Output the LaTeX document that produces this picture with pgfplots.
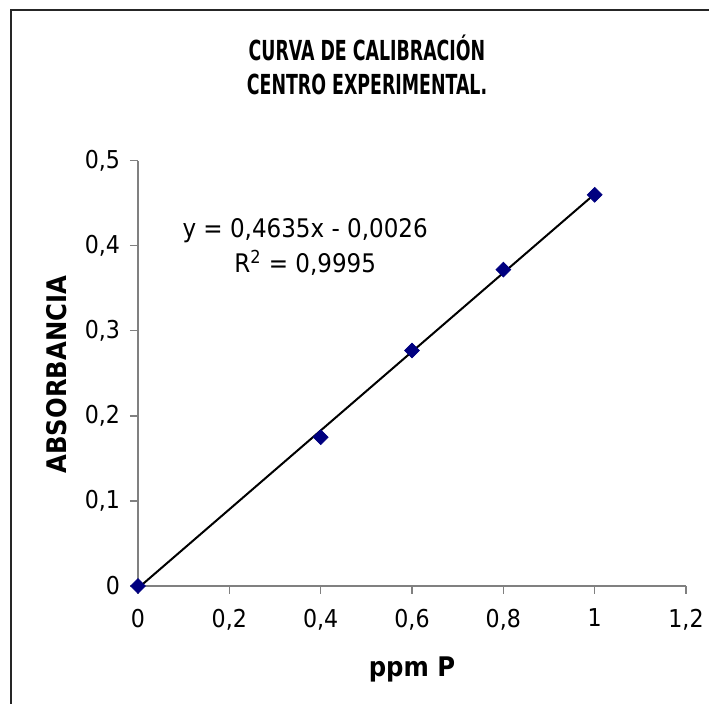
\documentclass[border=0pt]{standalone}
\usepackage{fontspec}
\setmainfont{DejaVu Sans Condensed}
\newfontfamily\titlefont[FakeStretch=0.7]{DejaVu Sans Condensed}
\usepackage{pgfplots}
\pgfplotsset{compat=1.18}
\definecolor{navy}{HTML}{000080}
\begin{document}
\begin{tikzpicture}[x=1pt,y=1pt]
\path[use as bounding box] (0,0) rectangle (354.5,352);
\draw[line width=0.9pt, black!85] (5.5,-20) |- (380,347);
\node[align=center, font=\titlefont\bfseries\fontsize{13.8}{17}\selectfont] at (183.5,319.5) {CURVA DE CALIBRACIÓN\\CENTRO EXPERIMENTAL.};
\begin{axis}[
  at={(69pt,59pt)}, anchor=south west,
  width=274pt, height=212.6pt, scale only axis,
  xmin=0, xmax=1.2, ymin=0, ymax=0.5,
  axis lines=left,
  axis line style={-, gray, line width=0.6pt},
  tick style={gray, line width=0.6pt},
  tick align=outside, major tick length=4pt,
  xtick={0,0.2,0.4,0.6,0.8,1,1.2},
  xticklabels={0,{0,2},{0,4},{0,6},{0,8},1,{1,2}},
  ytick={0,0.1,0.2,0.3,0.4,0.5},
  yticklabels={0,{0,1},{0,2},{0,3},{0,4},{0,5}},
  ticklabel style={font=\fontsize{12.3}{14}\selectfont},
  xticklabel style={yshift=-4pt},
  yticklabel style={xshift=-1.5pt},
  xlabel={ppm P},
  ylabel={ABSORBANCIA},
  xlabel style={at={(axis description cs:0.5,-0.214)}, anchor=base, font=\bfseries\fontsize{13.5}{15}\selectfont},
  ylabel style={at={(axis description cs:-0.148,0.497)}, anchor=center, rotate=0, font=\bfseries\fontsize{13.5}{15}\selectfont},
  clip=false,
]
\addplot[only marks, mark=square*, mark size=2.6pt, mark options={rotate=45, fill=navy, draw=navy}] coordinates {(0,0) (0.4,0.175) (0.6,0.277) (0.8,0.372) (1,0.46)};
\addplot[black, line width=1pt] coordinates {(0,-0.0026) (1,0.4609)};
\node[align=center, font=\fontsize{12.8}{17.5}\selectfont] at (axis description cs:0.305,0.797) {y = 0,4635x - 0,0026\\R\textsuperscript{2} = 0,9995};
\end{axis}
\end{tikzpicture}
\end{document}
